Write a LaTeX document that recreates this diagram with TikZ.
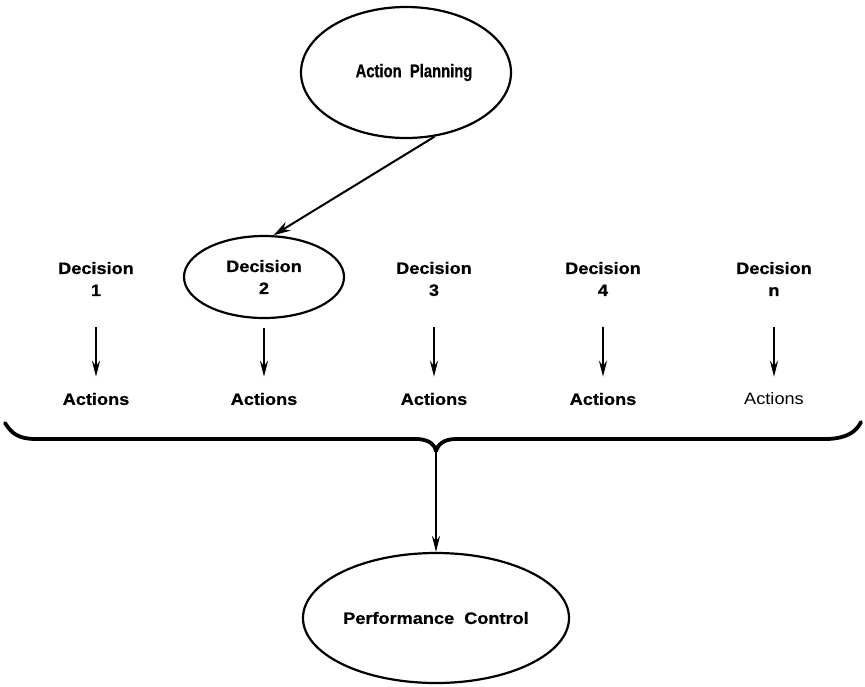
\documentclass[tikz,border=0pt]{standalone}
\usepackage{fontspec}
\setmainfont{Liberation Sans}[FakeStretch=1.1, BoldFeatures={FakeBold=0.6}]
\newfontfamily\narrowfont{Liberation Sans}[FakeStretch=0.8, BoldFeatures={FakeBold=0.6}]
\usetikzlibrary{shapes.geometric,arrows.meta}
\begin{document}
\begin{tikzpicture}[x=1pt,y=-1pt,
  lbl/.style={font=\fontsize{16.5}{22}\selectfont\bfseries, align=center, inner sep=0pt},
  plainlbl/.style={font=\fontsize{16.5}{22}\selectfont, align=center, inner sep=0pt},
  oval/.style={draw, ellipse, line width=2.2pt, inner sep=0pt},
  flow/.style={line width=2.4pt, -{Stealth[length=16pt,width=8pt]}},
  link/.style={line width=2pt, -{Stealth[length=17pt,width=10pt]}},
  brace/.style={line width=3.8pt, line cap=round, line join=round},
]
\useasboundingbox (0,0) rectangle (865,686);

% planning stage
\node[oval, minimum width=210pt, minimum height=131pt] (plan) at (406,72.5)
  {\makebox[0pt]{\hspace*{16pt}\narrowfont\fontsize{18.5}{22}\selectfont\bfseries Action\ \ Planning}};

% decision row
\node[lbl] (d1) at (96,279) {Decision\\1};
\node[oval, lbl, minimum width=160pt, minimum height=82pt] (dec2) at (264,277) {Decision\\2};
\node[lbl] (d3) at (434,279) {Decision\\3};
\node[lbl] (d4) at (603,279) {Decision\\4};
\node[lbl] (dn) at (774,279) {Decision\\n};

% action row
\node[lbl] (a1) at (96,399) {Actions};
\node[lbl] (a2) at (264,399) {Actions};
\node[lbl] (a3) at (434,399) {Actions};
\node[lbl] (a4) at (603,399) {Actions};
\node[plainlbl] (an) at (774,399) {Actions};

% control stage
\node[oval, minimum width=266pt, minimum height=130pt] (perf) at (436,618)
  {\makebox[0pt]{\bfseries\fontsize{16.5}{20}\selectfont Performance\ \ Control}};

% planning selects a decision
\draw[link] (plan.-66) -- (dec2.77);

% each decision leads to its actions
\draw[flow, shorten <=31pt, shorten >=16pt] (d1) -- (a1);
\draw[flow, shorten <=9pt, shorten >=16pt] (dec2.south) -- (a2);
\draw[flow, shorten <=31pt, shorten >=16pt] (d3) -- (a3);
\draw[flow, shorten <=31pt, shorten >=16pt] (d4) -- (a4);
\draw[flow, shorten <=31pt, shorten >=16pt] (dn) -- (an);

% brace gathering all actions
\draw[brace] (5,423) .. controls (12,434) and (19,439) .. (36,439)
  -- (418,439) .. controls (430,440) and (435,445) .. (436,451)
  .. controls (438,445) and (443,439) .. (456,439)
  -- (828,439) .. controls (847,438) and (856,432) .. (861,422);
\coordinate (tip) at (436,451);

% actions feed performance control
\draw[flow] (tip) -- (perf);
\end{tikzpicture}
\end{document}
